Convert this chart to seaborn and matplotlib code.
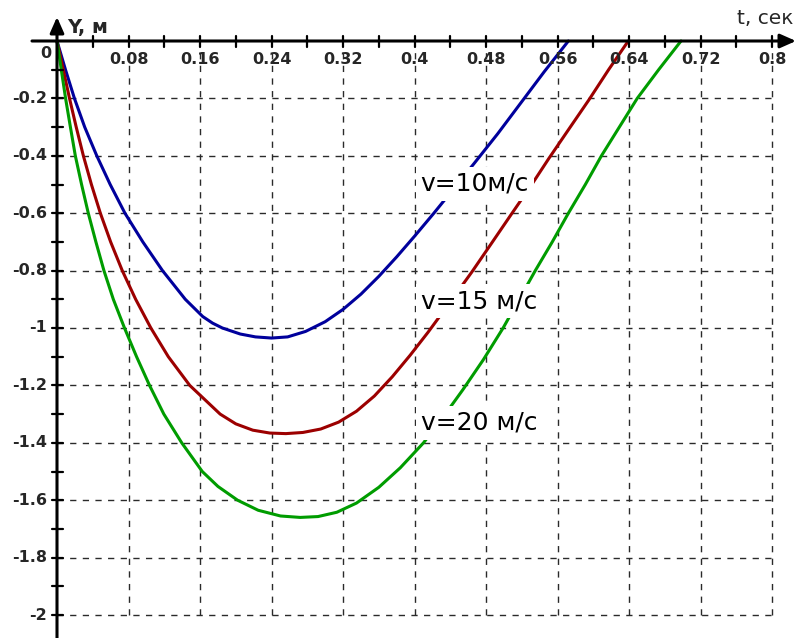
import numpy as np
import pandas as pd
import matplotlib
matplotlib.use("Agg")
import matplotlib.pyplot as plt
import seaborn as sns

sns.set_style("white")
plt.rcParams["font.family"] = ["DejaVu Sans"]

# Trajectories y(t) for three initial speeds
t_v10 = [0, 0.0095, 0.0195, 0.031, 0.0445, 0.0595, 0.076, 0.096, 0.118, 0.1435,
         0.163, 0.174, 0.185, 0.205, 0.222, 0.240, 0.258, 0.278, 0.300, 0.320,
         0.340, 0.360, 0.380, 0.400, 0.421, 0.445, 0.467, 0.493, 0.519, 0.545, 0.572]
y_v10 = [0, -0.10, -0.20, -0.30, -0.40, -0.50, -0.60, -0.70, -0.80, -0.90,
         -0.960, -0.983, -1.000, -1.021, -1.031, -1.035, -1.031, -1.012, -0.978, -0.935,
         -0.882, -0.820, -0.752, -0.680, -0.602, -0.510, -0.425, -0.323, -0.215, -0.107, 0]

t_v15 = [0, 0.007, 0.014, 0.0215, 0.0295, 0.0385, 0.0485, 0.060, 0.073, 0.088,
         0.105, 0.1245, 0.1485, 0.1825, 0.200, 0.219, 0.238, 0.256, 0.275, 0.295,
         0.315, 0.335, 0.355, 0.375, 0.395, 0.415, 0.435, 0.464, 0.486, 0.509,
         0.530, 0.550, 0.573, 0.595, 0.617, 0.639]
y_v15 = [0, -0.10, -0.20, -0.30, -0.40, -0.50, -0.60, -0.70, -0.80, -0.90,
         -1.00, -1.10, -1.20, -1.30, -1.334, -1.356, -1.366, -1.368, -1.364, -1.352,
         -1.328, -1.290, -1.237, -1.170, -1.095, -1.015, -0.930, -0.805, -0.705, -0.600,
         -0.505, -0.410, -0.305, -0.205, -0.100, 0]

t_v20 = [0, 0.0048, 0.0096, 0.015, 0.0205, 0.0275, 0.035, 0.0435, 0.0525, 0.063,
         0.0755, 0.089, 0.1035, 0.1195, 0.1395, 0.1625, 0.180, 0.202, 0.225, 0.250,
         0.272, 0.292, 0.313, 0.335, 0.360, 0.384, 0.410, 0.432, 0.454, 0.477,
         0.499, 0.517, 0.535, 0.554, 0.572, 0.591, 0.609, 0.629, 0.649, 0.673, 0.698]
y_v20 = [0, -0.10, -0.20, -0.30, -0.40, -0.50, -0.60, -0.70, -0.80, -0.90,
         -1.00, -1.10, -1.20, -1.30, -1.40, -1.50, -1.552, -1.600, -1.635, -1.655,
         -1.660, -1.657, -1.642, -1.610, -1.555, -1.487, -1.400, -1.310, -1.215, -1.110,
         -1.000, -0.90, -0.80, -0.70, -0.60, -0.50, -0.40, -0.30, -0.20, -0.10, 0]

series_names = ["v=10м/с", "v=15 м/с", "v=20 м/с"]
series_colors = ["#00009c", "#9c0000", "#009c00"]
label_y = [-0.497, -0.906, -1.330]

x_ticks = [0.08, 0.16, 0.24, 0.32, 0.4, 0.48, 0.56, 0.64, 0.72, 0.8]
x_tick_labels = ["0.08", "0.16", "0.24", "0.32", "0.4", "0.48", "0.56", "0.64", "0.72", "0.8"]
y_ticks = [-0.2, -0.4, -0.6, -0.8, -1.0, -1.2, -1.4, -1.6, -1.8, -2.0]
y_tick_labels = ["-0.2", "-0.4", "-0.6", "-0.8", "-1", "-1.2", "-1.4", "-1.6", "-1.8", "-2"]

df = pd.concat([
    pd.DataFrame({"t": t_v10, "y": y_v10, "v": series_names[0]}),
    pd.DataFrame({"t": t_v15, "y": y_v15, "v": series_names[1]}),
    pd.DataFrame({"t": t_v20, "y": y_v20, "v": series_names[2]}),
], ignore_index=True)

W, H = 797, 638
fig = plt.figure(figsize=(W / 100, H / 100), dpi=100)
ax = fig.add_axes([0, 0, 1, 1])
# pixel scale: 894 px per second, 287 px per metre, origin at (57, 41)
sx, sy = 894.0, 287.0
ax.set_xlim(-57 / sx, (W - 57) / sx)
ax.set_ylim(-(H - 41) / sy, 41 / sy)
ax.axis("off")

# dashed grid
dash = (0, (4.5, 4.6))
ax.vlines(x_ticks, -2.0, -8 / sy, colors="#2a2a2a", lw=1.0, linestyles=dash, zorder=1)
ax.hlines(y_ticks, 0, 0.8, colors="#2a2a2a", lw=1.0, linestyles=dash, zorder=1)

# curves
sns.lineplot(data=df, x="t", y="y", hue="v", palette=dict(zip(series_names, series_colors)),
             sort=False, estimator=None, lw=2.2, legend=False, ax=ax, zorder=3)

# curve labels on white boxes
for name, yl in zip(series_names, label_y):
    ax.text(0.4 + 6 / sx, yl, name, ha="left", va="center", fontsize=18, color="black",
            bbox=dict(boxstyle="square,pad=0.2", fc="white", ec="none"), zorder=4)

# axes with arrows
arrow = dict(arrowstyle="-|>,head_length=0.95,head_width=0.42", lw=2.2, color="black",
             shrinkA=0, shrinkB=0, mutation_scale=10)
ax.annotate("", xy=((W - 1 - 57) / sx, 0), xytext=(-25 / sx, 0), arrowprops=arrow, zorder=5)
ax.annotate("", xy=(0, 24 / sy), xytext=(0, -(H - 41) / sy), arrowprops=arrow, zorder=5)

# tick marks
for k in range(1, 21):
    tx = 0.04 * k
    ax.plot([tx, tx], [5.5 / sy, -5.5 / sy], color="black", lw=1.6, zorder=5)
for k in range(1, 21):
    ty = -0.1 * k
    ax.plot([-5.5 / sx, 5.5 / sx], [ty, ty], color="black", lw=1.6, zorder=5)

# tick labels
for tx, lab in zip(x_ticks, x_tick_labels):
    ax.text(tx, -18 / sy, lab, ha="center", va="center", fontsize=11.5,
            fontweight="bold", zorder=6)
for ty, lab in zip(y_ticks, y_tick_labels):
    ax.text(-10 / sx, ty, lab, ha="right", va="center", fontsize=11.5,
            fontweight="bold", zorder=6)
ax.text(-11 / sx, -12.5 / sy, "0", ha="center", va="center", fontsize=11.5,
        fontweight="bold", zorder=6)

# axis titles
ax.text(10 / sx, 14 / sy, "Y, м", ha="left", va="center", fontsize=14, fontweight="bold")
ax.text((W - 4 - 57) / sx, 22 / sy, "t, сек", ha="right", va="center", fontsize=14.5)

fig.savefig("out.png", dpi=100)
